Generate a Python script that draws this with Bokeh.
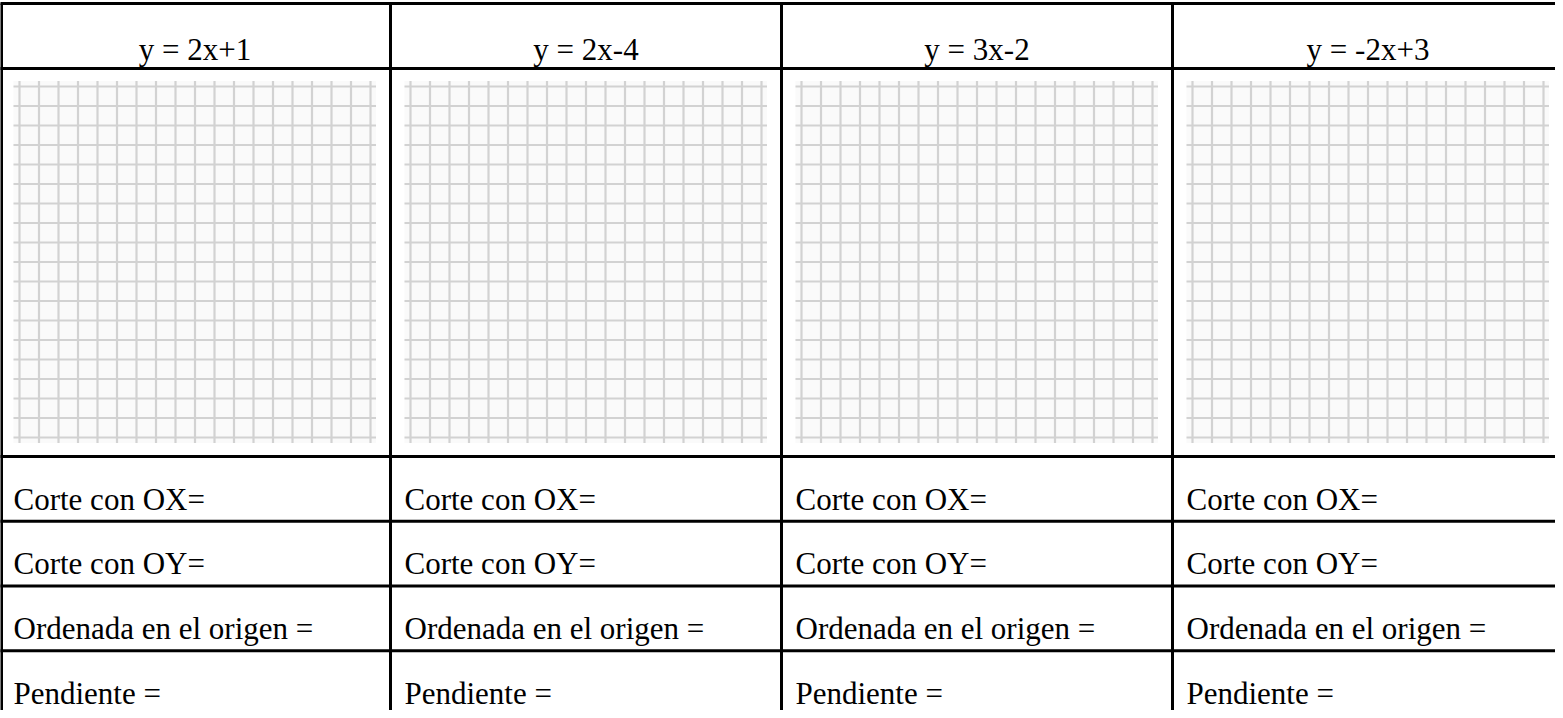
from bokeh.plotting import figure
from bokeh.models import Range1d
from bokeh.core.properties import value
from bokeh.embed import file_html
from bokeh.resources import INLINE

# ---- content ----
equations = ["y = 2x+1", "y = 2x-4", "y = 3x-2", "y = -2x+3"]
row_labels = ["Corte con OX=", "Corte con OY=", "Ordenada en el origen =", "Pendiente ="]
grid_lines_per_axis = 19  # 18 x 18 squares

# ---- layout (screen pixels) ----
W, H = 1555, 710
TABLE_LEFT = 7
COL_W = 391
TOP = 11
HEADER_H = 65
GRID_ROW_H = 388
ROW_H = 64.75
CELL_PAD = 14
GRID_X_OFF = 20
GRID_Y0 = 94
GRID_STEP = 19.5
OVERHANG = 5.5

FONT = value("Liberation Serif")

p = figure(width=W, height=H, output_backend="svg", toolbar_location=None,
           x_axis_type=None, y_axis_type=None, min_border=0,
           x_range=Range1d(8, 8 + W), y_range=Range1d(8 + H, 8))
p.outline_line_color = None
p.background_fill_color = "white"
p.border_fill_color = "white"

ncols = len(equations)
col_lefts = [TABLE_LEFT + i * COL_W for i in range(ncols)]
table_right = TABLE_LEFT + ncols * COL_W

# row boundaries
row_ys = [TOP, TOP + HEADER_H, TOP + HEADER_H + GRID_ROW_H]
for i in range(len(row_labels)):
    row_ys.append(row_ys[-1] + ROW_H)

# ---- grid paper in each grid cell ----
gx0, gx1, gy0, gy1, hx0, hx1, hy = [], [], [], [], [], [], []
bg_l, bg_r = [], []
gy_first = GRID_Y0
gy_last = GRID_Y0 + (grid_lines_per_axis - 1) * GRID_STEP
for cl in col_lefts:
    x_first = cl + GRID_X_OFF
    x_last = x_first + (grid_lines_per_axis - 1) * GRID_STEP
    bg_l.append(x_first - OVERHANG - 0.5)
    bg_r.append(x_last + OVERHANG)
    for k in range(grid_lines_per_axis):
        x = x_first + k * GRID_STEP
        gx0.append(x); gx1.append(x)
        gy0.append(gy_first - OVERHANG); gy1.append(gy_last + OVERHANG)
        y = gy_first + k * GRID_STEP
        hx0.append(x_first - OVERHANG - 0.5); hx1.append(x_last + OVERHANG)
        hy.append(y)

p.quad(left=bg_l, right=bg_r, top=[gy_first - OVERHANG] * ncols,
       bottom=[gy_last + OVERHANG] * ncols, fill_color="#fafafa", line_color=None)
p.segment(x0=gx0, y0=gy0, x1=gx1, y1=gy1, line_color="#d2d2d2", line_width=2.2)
p.segment(x0=hx0, y0=hy, x1=hx1, y1=hy, line_color="#d2d2d2", line_width=2.2)

# ---- table borders ----
vx = [TABLE_LEFT + 2] + col_lefts[1:] + [table_right]
p.segment(x0=vx, y0=[TOP] * len(vx), x1=vx, y1=[row_ys[-1]] * len(vx),
          line_color="black", line_width=3)
p.segment(x0=[TABLE_LEFT] * len(row_ys), y0=row_ys,
          x1=[table_right] * len(row_ys), y1=row_ys,
          line_color="black", line_width=3)

# ---- header texts ----
p.text(x=[cl + COL_W / 2 for cl in col_lefts], y=[TOP + 46] * ncols, text=equations,
       text_font=FONT, text_font_size="31px", text_color="black",
       text_align="center", text_baseline="alphabetic")

# ---- row texts ----
tx, ty, tt = [], [], []
for r, lab in enumerate(row_labels):
    y = row_ys[2 + r] + 42.6
    for cl in col_lefts:
        tx.append(cl + CELL_PAD); ty.append(y); tt.append(lab)
p.text(x=tx, y=ty, text=tt, text_font=FONT, text_font_size="31px", text_color="black",
       text_align="left", text_baseline="alphabetic")

open("out.html", "w").write(file_html(p, INLINE))
